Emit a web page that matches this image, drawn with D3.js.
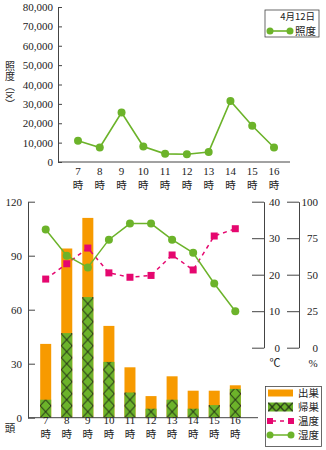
<!DOCTYPE html>
<html>
<head>
<meta charset="utf-8">
<script src="https://cdn.jsdelivr.net/npm/d3@7/dist/d3.min.js"></script>
<style>
  body { margin: 0; background: #fff; }
  svg { display: block; }
  text { font-family: "Liberation Serif", "Noto Sans CJK JP", serif; fill: #222; }
  .jp { font-family: "Noto Sans CJK JP", sans-serif; }
</style>
</head>
<body>
<div id="chart"></div>
<script>
// hourly observations, 4月12日
const hours = ["7", "8", "9", "10", "11", "12", "13", "14", "15", "16"];
const lux = [11000, 7500, 25500, 8000, 4200, 4000, 5200, 31500, 18700, 7500];
const departures = [41, 94, 111, 51, 28, 12, 23, 15, 15, 18];   // 出巣
const returns = [10, 47, 67, 31, 14, 5, 10, 5, 7, 16];          // 帰巣
const temperature = [18.8, 23, 27.3, 20.5, 19.3, 19.8, 25.4, 21.3, 30.6, 32.6];
const humidity = [81, 63, 55, 74, 85, 85, 74, 65, 44, 25];

const luxTicks = [0, 10000, 20000, 30000, 40000, 50000, 60000, 70000, 80000];
const countTicks = [0, 30, 60, 90, 120];
const tempTicks = [0, 10, 20, 30, 40];
const humTicks = [0, 25, 50, 75, 100];

const W = 326, H = 450;
const ORANGE = "#f79a00", GREEN = "#6cb32a", PINK = "#e5076f", AXIS = "#444";

const svg = d3.select("#chart").append("svg")
    .attr("width", W).attr("height", H);
const defs = svg.append("defs");

// ---------- top chart: 照度 ----------
const x1 = d3.scalePoint().domain(hours).range([78, 274]);
const y1 = d3.scaleLinear().domain([0, 80000]).range([162, 7]);

const luxAxis = svg.append("g")
    .attr("transform", "translate(58,0)")
    .call(d3.axisLeft(y1).tickValues(luxTicks).tickFormat(d3.format(","))
        .tickSizeInner(-4).tickSizeOuter(0).tickPadding(5));
luxAxis.selectAll("text").style("font-size", "11px").style("fill", "#222");
luxAxis.selectAll("line,path").attr("stroke", AXIS);

svg.append("line").attr("x1", 58).attr("x2", 290).attr("y1", 162).attr("y2", 162)
    .attr("stroke", AXIS);

// two-line hour labels: number, then 時 underneath
function hourLabels(scale, y) {
    const g = svg.append("g");
    hours.forEach(h => {
        g.append("text").attr("x", scale(h)).attr("y", y)
            .attr("text-anchor", "middle").style("font-size", "11px").text(h);
        g.append("text").attr("class", "jp").attr("x", scale(h)).attr("y", y + 14)
            .attr("text-anchor", "middle").style("font-size", "10.5px").text("時");
    });
}
hourLabels(x1, 175);

// vertical y label
svg.append("text").attr("class", "jp")
    .attr("x", 10).attr("y", 61)
    .style("writing-mode", "vertical-rl")
    .style("font-size", "10px")
    .text("照度（lx）");

const luxLine = d3.line().x((d, i) => x1(hours[i])).y(d => y1(d));
svg.append("path").datum(lux).attr("d", luxLine)
    .attr("fill", "none").attr("stroke", GREEN).attr("stroke-width", 1.6);
svg.selectAll(".luxdot").data(lux).enter().append("circle")
    .attr("cx", (d, i) => x1(hours[i])).attr("cy", d => y1(d)).attr("r", 4)
    .attr("fill", GREEN);

// top legend
svg.append("rect").attr("x", 265).attr("y", 10).attr("width", 54).attr("height", 27)
    .attr("fill", "#fff").attr("stroke", AXIS).attr("stroke-width", 0.8);
svg.append("text").attr("class", "jp").attr("x", 315).attr("y", 20)
    .attr("text-anchor", "end").style("font-size", "9.5px").text("4月12日");
svg.append("line").attr("x1", 270).attr("x2", 290).attr("y1", 31).attr("y2", 31)
    .attr("stroke", GREEN).attr("stroke-width", 1.6);
[270, 290].forEach(cx => svg.append("circle").attr("cx", cx).attr("cy", 31).attr("r", 3.5).attr("fill", GREEN));
svg.append("text").attr("class", "jp").attr("x", 295).attr("y", 35)
    .style("font-size", "10.5px").text("照度");

// ---------- bottom chart ----------
const x2 = d3.scalePoint().domain(hours).range([45.7, 235.3]);
const y2 = d3.scaleLinear().domain([0, 120]).range([417.7, 201.7]);
const yT = d3.scaleLinear().domain([0, 40]).range([347.7, 201.7]);
const yH = d3.scaleLinear().domain([0, 100]).range([347.7, 201.7]);
const barW = 11;

// one cross-hatch pattern per bar so the X's line up with each bar
function hatch(id, x, y, w, h) {
    const p = defs.append("pattern").attr("id", id)
        .attr("patternUnits", "userSpaceOnUse")
        .attr("x", x).attr("y", y).attr("width", w).attr("height", h);
    p.append("rect").attr("width", w).attr("height", h).attr("fill", GREEN);
    p.append("path").attr("d", `M0,0L${w},${h}M${w},0L0,${h}`)
        .attr("stroke", "#111").attr("stroke-width", 1);
}
hours.forEach((h, i) => hatch("hatch" + i, x2(h) - barW / 2, y2(0), barW, 12));

svg.selectAll(".dep").data(departures).enter().append("rect")
    .attr("x", (d, i) => x2(hours[i]) - barW / 2).attr("width", barW)
    .attr("y", d => y2(d)).attr("height", d => y2(0) - y2(d))
    .attr("fill", ORANGE);
svg.selectAll(".ret").data(returns).enter().append("rect")
    .attr("x", (d, i) => x2(hours[i]) - barW / 2).attr("width", barW)
    .attr("y", d => y2(d)).attr("height", d => y2(0) - y2(d))
    .attr("fill", (d, i) => `url(#hatch${i})`);

const countAxis = svg.append("g")
    .attr("transform", "translate(28,0)")
    .call(d3.axisLeft(y2).tickValues(countTicks)
        .tickSizeInner(-7).tickSizeOuter(0).tickPadding(6));
countAxis.selectAll("text").style("font-size", "11px").style("fill", "#222");
countAxis.selectAll("line,path").attr("stroke", AXIS);

svg.append("line").attr("x1", 28).attr("x2", 258).attr("y1", 417.7).attr("y2", 417.7)
    .attr("stroke", AXIS);

const tempAxis = svg.append("g")
    .attr("transform", "translate(264,0)")
    .call(d3.axisRight(yT).tickValues(tempTicks).tickSizeInner(-12).tickSizeOuter(0));
tempAxis.selectAll("text").attr("x", 16).attr("text-anchor", "end")
    .style("font-size", "11px").style("fill", "#222");
tempAxis.selectAll("line,path").attr("stroke", AXIS);

const humAxis = svg.append("g")
    .attr("transform", "translate(299,0)")
    .call(d3.axisRight(yH).tickValues(humTicks).tickSizeInner(-12).tickSizeOuter(0));
humAxis.selectAll("text").attr("x", 19).attr("text-anchor", "end")
    .style("font-size", "11px").style("fill", "#222");
humAxis.selectAll("line,path").attr("stroke", AXIS);

svg.append("text").attr("x", 275).attr("y", 367).attr("text-anchor", "middle")
    .style("font-size", "11px").text("℃");
svg.append("text").attr("x", 313).attr("y", 367).attr("text-anchor", "middle")
    .style("font-size", "11px").text("%");
svg.append("text").attr("class", "jp").attr("x", 10).attr("y", 432)
    .attr("text-anchor", "middle").style("font-size", "10.5px").text("頭");

hourLabels(x2, 424);

// temperature (dashed pink, squares)
const tLine = d3.line().x((d, i) => x2(hours[i])).y(d => yT(d));
svg.append("path").datum(temperature).attr("d", tLine)
    .attr("fill", "none").attr("stroke", PINK).attr("stroke-width", 1.5)
    .attr("stroke-dasharray", "4,4");
svg.selectAll(".tdot").data(temperature).enter().append("rect")
    .attr("x", (d, i) => x2(hours[i]) - 3.5).attr("y", d => yT(d) - 3.5)
    .attr("width", 7).attr("height", 7).attr("fill", PINK);

// humidity (solid green, circles)
const hLine = d3.line().x((d, i) => x2(hours[i])).y(d => yH(d));
svg.append("path").datum(humidity).attr("d", hLine)
    .attr("fill", "none").attr("stroke", GREEN).attr("stroke-width", 1.5);
svg.selectAll(".hdot").data(humidity).enter().append("circle")
    .attr("cx", (d, i) => x2(hours[i])).attr("cy", d => yH(d)).attr("r", 4)
    .attr("fill", GREEN);

// bottom legend
const lg = svg.append("g");
lg.append("rect").attr("x", 265.5).attr("y", 386.5).attr("width", 56).attr("height", 60)
    .attr("fill", "#fff").attr("stroke", AXIS).attr("stroke-width", 0.8);
const rows = [393, 407, 421, 435];
const names = ["出巣", "帰巣", "温度", "湿度"];
lg.append("rect").attr("x", 268).attr("y", rows[0] - 3.5).attr("width", 25).attr("height", 7)
    .attr("fill", ORANGE);
hatch("hatchLegend", 268, rows[1] - 4.5, 8.33, 9);
lg.append("rect").attr("x", 268).attr("y", rows[1] - 4.5).attr("width", 25).attr("height", 9)
    .attr("fill", "url(#hatchLegend)");
lg.append("line").attr("x1", 270).attr("x2", 291).attr("y1", rows[2]).attr("y2", rows[2])
    .attr("stroke", PINK).attr("stroke-width", 1.5).attr("stroke-dasharray", "4,4")
    .attr("stroke-dashoffset", -2);
[270, 291].forEach(cx => lg.append("rect").attr("x", cx - 3).attr("y", rows[2] - 3)
    .attr("width", 6).attr("height", 6).attr("fill", PINK));
lg.append("line").attr("x1", 270).attr("x2", 291).attr("y1", rows[3]).attr("y2", rows[3])
    .attr("stroke", GREEN).attr("stroke-width", 1.5);
[270, 291].forEach(cx => lg.append("circle").attr("cx", cx).attr("cy", rows[3]).attr("r", 3.5)
    .attr("fill", GREEN));
names.forEach((n, i) => lg.append("text").attr("class", "jp")
    .attr("x", 298).attr("y", rows[i] + 4).style("font-size", "10.5px").text(n));
</script>
</body>
</html>
